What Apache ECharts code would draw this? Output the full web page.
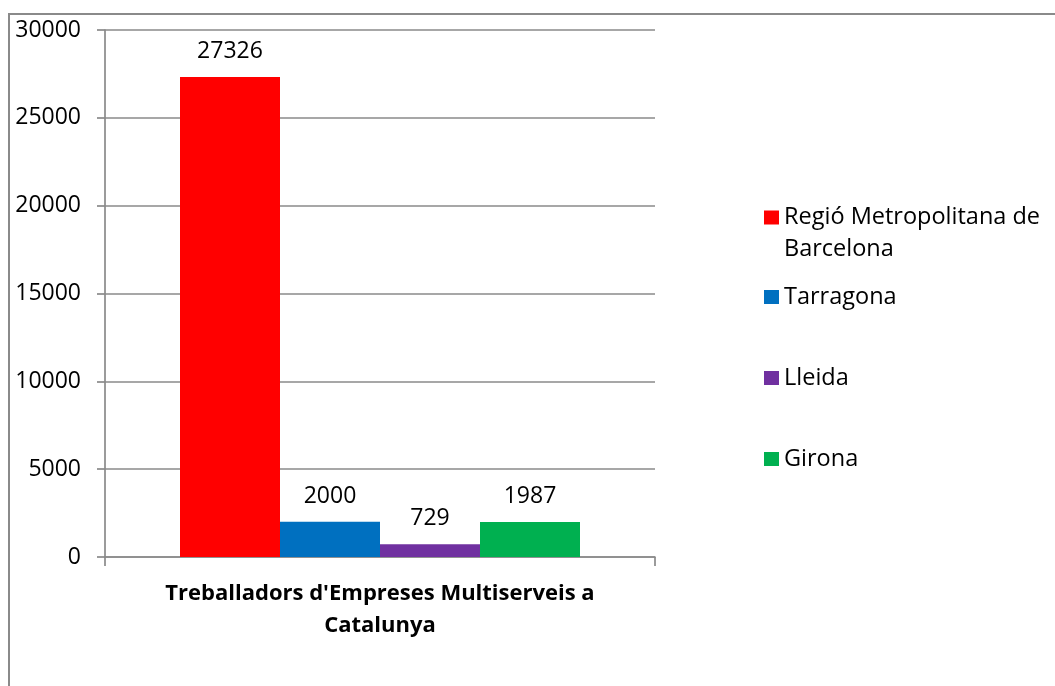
<!DOCTYPE html>
<html>
<head>
<meta charset="utf-8">
<script src="https://cdn.jsdelivr.net/npm/echarts@6/dist/echarts.min.js"></script>
<style>
html,body{margin:0;padding:0;background:#fff;}
#chart{width:1055px;height:686px;}
</style>
</head>
<body>
<div id="chart"></div>
<script>
var categories = ["Treballadors d'Empreses Multiserveis a\nCatalunya"];
var seriesNames = ["Regió Metropolitana de\nBarcelona", "Tarragona", "Lleida", "Girona"];
var seriesValues = [[27326], [2000], [729], [1987]];
var seriesColors = ["#FF0000", "#0070C0", "#7030A0", "#00B050"];
var yTicks = [0, 5000, 10000, 15000, 20000, 25000, 30000];

var FONT = "'Open Sans', 'Noto Sans', sans-serif";
var chart = echarts.init(document.getElementById('chart'), null, {renderer: 'canvas'});

var series = seriesNames.map(function (name, i) {
  return {
    name: name,
    type: 'bar',
    data: seriesValues[i],
    barWidth: 100,
    barGap: '0%',
    itemStyle: {color: seriesColors[i]},
    label: {
      show: true,
      position: 'top',
      distance: 14,
      color: '#000',
      fontFamily: FONT,
      fontSize: 23
    }
  };
});

chart.setOption({
  backgroundColor: '#fff',
  animation: false,
  graphic: [{
    type: 'rect',
    shape: {x: 9, y: 14, width: 1200, height: 800},
    style: {fill: 'none', stroke: '#8a8a8a', lineWidth: 2},
    silent: true,
    z: -1
  }],
  grid: {left: 105, right: 400, top: 30, bottom: 129, containLabel: false},
  legend: [{
    data: [seriesNames[0]],
    orient: 'vertical',
    left: 764,
    top: 169.5,
    padding: 0,
    itemWidth: 15,
    itemHeight: 14,
    icon: 'rect',
    selectedMode: false,
    formatter: function (name) { return '\n' + name; },
    textStyle: {fontFamily: FONT, fontSize: 23.5, color: '#000', lineHeight: 32}
  }, {
    data: seriesNames.slice(1),
    orient: 'vertical',
    left: 764,
    top: 281,
    padding: 0,
    itemGap: 49,
    itemWidth: 15,
    itemHeight: 14,
    icon: 'rect',
    selectedMode: false,
    textStyle: {fontFamily: FONT, fontSize: 23.5, color: '#000', lineHeight: 32}
  }],
  xAxis: {
    type: 'category',
    data: categories,
    axisLine: {show: true, lineStyle: {color: '#8a8a8a', width: 1.7}},
    axisTick: {show: true, length: 9, lineStyle: {color: '#8a8a8a', width: 1.7}},
    axisLabel: {
      margin: 21,
      color: '#000',
      fontFamily: FONT,
      fontWeight: 'bold',
      fontSize: 22,
      lineHeight: 32
    }
  },
  yAxis: {
    type: 'value',
    min: 0,
    max: 30000,
    interval: 5000,
    axisLine: {show: true, lineStyle: {color: '#8a8a8a', width: 1.7}},
    axisTick: {show: true, length: 8, lineStyle: {color: '#8a8a8a', width: 1.7}},
    splitLine: {show: true, lineStyle: {color: '#8a8a8a', width: 1.7}},
    axisLabel: {
      margin: 24,
      color: '#000',
      fontFamily: FONT,
      fontSize: 23,
      formatter: function (v) { return yTicks.indexOf(v) >= 0 ? String(v) : ''; }
    }
  },
  series: series
});
</script>
</body>
</html>
